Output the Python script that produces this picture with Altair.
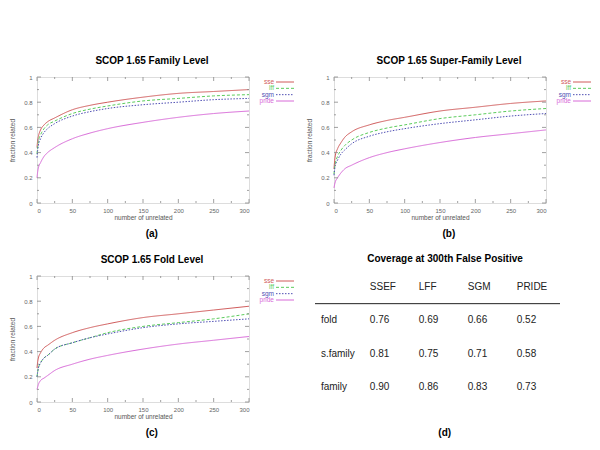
import altair as alt
import pandas as pd

FONT = "Liberation Sans"

# ---------------- data ----------------
x_vals = [0, 1, 2, 5, 10, 15, 25, 50, 75, 100, 150, 200, 250, 300]
methods = ["sse", "lff", "sgm", "pride"]

fam_sse = [0.44, 0.50, 0.53, 0.58, 0.62, 0.645, 0.675, 0.74, 0.775, 0.80, 0.84, 0.87, 0.885, 0.90]
fam_lff = [0.39, 0.45, 0.49, 0.54, 0.59, 0.62, 0.65, 0.71, 0.745, 0.77, 0.81, 0.83, 0.85, 0.86]
fam_sgm = [0.36, 0.42, 0.46, 0.51, 0.56, 0.59, 0.63, 0.69, 0.725, 0.75, 0.78, 0.80, 0.82, 0.83]
fam_pride = [0.20, 0.25, 0.28, 0.32, 0.37, 0.40, 0.44, 0.51, 0.555, 0.59, 0.64, 0.68, 0.71, 0.73]

sf_sse = [0.27, 0.34, 0.38, 0.43, 0.48, 0.52, 0.565, 0.62, 0.655, 0.68, 0.73, 0.76, 0.79, 0.81]
sf_lff = [0.23, 0.29, 0.32, 0.37, 0.42, 0.455, 0.50, 0.56, 0.595, 0.62, 0.67, 0.70, 0.73, 0.75]
sf_sgm = [0.22, 0.27, 0.30, 0.34, 0.39, 0.42, 0.47, 0.53, 0.565, 0.59, 0.63, 0.66, 0.69, 0.71]
sf_pride = [0.12, 0.15, 0.17, 0.20, 0.24, 0.27, 0.30, 0.36, 0.40, 0.43, 0.48, 0.52, 0.55, 0.58]

fold_sse = [0.27, 0.32, 0.35, 0.39, 0.43, 0.45, 0.49, 0.55, 0.59, 0.62, 0.67, 0.70, 0.73, 0.76]
fold_lff = [0.20, 0.24, 0.27, 0.31, 0.35, 0.37, 0.42, 0.47, 0.51, 0.55, 0.60, 0.63, 0.66, 0.70]
fold_sgm = [0.20, 0.24, 0.27, 0.31, 0.35, 0.37, 0.42, 0.47, 0.51, 0.54, 0.59, 0.62, 0.64, 0.66]
fold_pride = [0.10, 0.12, 0.14, 0.17, 0.19, 0.21, 0.25, 0.30, 0.34, 0.37, 0.42, 0.46, 0.49, 0.52]

x_ticks = [0, 25, 50, 75, 100, 125, 150, 175, 200, 225, 250, 275, 300]
x_major = [0, 50, 100, 150, 200, 250, 300]
y_ticks = [0, 0.1, 0.2, 0.3, 0.4, 0.5, 0.6, 0.7, 0.8, 0.9, 1.0]
y_major = [0, 0.2, 0.4, 0.6, 0.8, 1.0]

table_header = ["SSEF", "LFF", "SGM", "PRIDE"]
table_rows = ["fold", "s.family", "family"]
table_fold = [0.76, 0.69, 0.66, 0.52]
table_sfam = [0.81, 0.75, 0.71, 0.58]
table_fam = [0.90, 0.86, 0.83, 0.73]

colors = ["#d05a5a", "#5ccc5c", "#5050b4", "#d86ad8"]
dashes = [[1, 0], [3, 2], [1.5, 1.5], [1, 0]]

W, H = 212, 126
color_scale = alt.Scale(domain=methods, range=colors)
dash_scale = alt.Scale(domain=methods, range=dashes)


def long_df(series):
    rows = []
    for m, vals in zip(methods, series):
        for xv, yv in zip(x_vals, vals):
            rows.append({"x": xv, "y": yv, "method": m})
    return pd.DataFrame(rows)


xt_df = pd.DataFrame({"t": x_ticks, "major": [t in x_major for t in x_ticks]})
yt_df = pd.DataFrame({"t": y_ticks, "major": [any(abs(t - m) < 1e-9 for m in y_major) for t in y_ticks]})

xsc = alt.Scale(domain=[0, 300], nice=False)
ysc = alt.Scale(domain=[0, 1], nice=False)

x_axis = alt.Axis(values=x_major, ticks=False, domain=False, grid=False,
                  labelFontSize=6, labelColor="#666", labelPadding=4, labelFont=FONT,
                  title="number of unrelated", titleFontSize=6.5, titleFontWeight="normal",
                  titleColor="#555", titlePadding=1, titleFont=FONT)
y_axis = alt.Axis(values=y_major, format="~g", ticks=False, domain=False, grid=False,
                  labelFontSize=6, labelColor="#666", labelPadding=5, labelFont=FONT,
                  title="fraction related", titleFontSize=6.5, titleFontWeight="normal",
                  titleColor="#555", titlePadding=8, titleFont=FONT)


def tick_layers():
    layers = []
    for major, ln in [(True, 4), (False, 2)]:
        xd = alt.Chart(xt_df).transform_filter(alt.datum.major == major)
        yd = alt.Chart(yt_df).transform_filter(alt.datum.major == major)
        layers.append(xd.mark_rule(color="#888", strokeWidth=0.8).encode(
            x=alt.X("t:Q", scale=xsc, axis=x_axis), y=alt.value(H), y2=alt.value(H - ln)))
        layers.append(xd.mark_rule(color="#888", strokeWidth=0.8).encode(
            x=alt.X("t:Q", scale=xsc, axis=x_axis), y=alt.value(0), y2=alt.value(ln)))
        layers.append(yd.mark_rule(color="#888", strokeWidth=0.8).encode(
            y=alt.Y("t:Q", scale=ysc, axis=y_axis), x=alt.value(0), x2=alt.value(ln)))
        layers.append(yd.mark_rule(color="#888", strokeWidth=0.8).encode(
            y=alt.Y("t:Q", scale=ysc, axis=y_axis), x=alt.value(W), x2=alt.value(W - ln)))
    return layers


def panel(series, title, caption):
    df = long_df(series)
    lines = alt.Chart(df).mark_line(strokeWidth=1, interpolate="monotone").encode(
        x=alt.X("x:Q", scale=xsc, axis=x_axis),
        y=alt.Y("y:Q", scale=ysc, axis=y_axis),
        color=alt.Color("method:N", scale=color_scale, legend=None),
        strokeDash=alt.StrokeDash("method:N", scale=dash_scale, legend=None),
    )
    plot = alt.layer(lines, *tick_layers()).properties(
        width=W, height=H,
        title=alt.Title(title, fontSize=10, fontWeight="bold", font=FONT, color="#000",
                        offset=8, frame="group", dx=9),
    )

    leg_df = pd.DataFrame({"method": methods})
    ly = alt.Y("method:N", sort=methods, axis=None,
               scale=alt.Scale(type="point", range=[5, 24], padding=0))
    ltext = alt.Chart(leg_df).mark_text(align="right", baseline="middle", fontSize=6.5, font=FONT).encode(
        y=ly, x=alt.value(10), text="method:N",
        color=alt.Color("method:N", scale=color_scale, legend=None))
    lrule = alt.Chart(leg_df).mark_rule(strokeWidth=1).encode(
        y=ly, x=alt.value(12), x2=alt.value(30),
        color=alt.Color("method:N", scale=color_scale, legend=None),
        strokeDash=alt.StrokeDash("method:N", scale=dash_scale, legend=None))
    legend = alt.layer(lrule, ltext).properties(width=30, height=H, view=alt.ViewBackground(stroke=None))

    return alt.hconcat(plot, legend, spacing=7).properties(
        title=alt.Title(caption, orient="bottom", anchor="middle", fontSize=10, fontWeight="bold",
                        font=FONT, color="#000", offset=8))


pa = panel([fam_sse, fam_lff, fam_sgm, fam_pride], "SCOP 1.65 Family Level", "(a)")
pb = panel([sf_sse, sf_lff, sf_sgm, sf_pride], "SCOP 1.65 Super-Family Level", "(b)")
pc = panel([fold_sse, fold_lff, fold_sgm, fold_pride], "SCOP 1.65 Fold Level", "(c)")

# ---------------- table (d) ----------------
trows = []
for i, h in enumerate(table_header):
    trows.append({"col": i + 1, "row": 0, "txt": h})
for r, (name, vals) in enumerate(zip(table_rows, [table_fold, table_sfam, table_fam])):
    trows.append({"col": 0, "row": r + 1, "txt": name})
    for i, v in enumerate(vals):
        trows.append({"col": i + 1, "row": r + 1, "txt": f"{v:.2f}"})
tdf = pd.DataFrame(trows)

TW = 260
tx = alt.Scale(domain=[-0.12, 5.19], nice=False, zero=False)
ty = alt.Scale(domain=[-0.33, 3.45], nice=False, zero=False, reverse=True)
ttext = alt.Chart(tdf).mark_text(align="left", baseline="middle", fontSize=10, font=FONT, color="#222").encode(
    x=alt.X("col:Q", scale=tx, axis=None),
    y=alt.Y("row:Q", scale=ty, axis=None),
    text="txt:N")
trule = alt.Chart(pd.DataFrame({"r": [0.5]})).mark_rule(color="#222", strokeWidth=1).encode(
    y=alt.Y("r:Q", scale=ty, axis=None), x=alt.value(0), x2=alt.value(245))
table = alt.layer(trule, ttext).properties(
    width=TW, height=H, view=alt.ViewBackground(stroke=None),
    title=alt.Title("Coverage at 300th False Positive", fontSize=10, fontWeight="bold", font=FONT,
                    color="#000", offset=12))
pd_ = alt.hconcat(table).properties(
    title=alt.Title("(d)", orient="bottom", anchor="middle", fontSize=10, fontWeight="bold",
                    font=FONT, color="#000", offset=26))

row1 = alt.hconcat(pa, pb, spacing=11)
row2 = alt.hconcat(pc, pd_, spacing=19)
chart = alt.vconcat(row1, row2, spacing=15).properties(
    padding={"left": 1, "top": 47, "right": 0, "bottom": 0}
).configure_view(stroke="#888", strokeWidth=0.8).configure(background="white")

chart.save("out.html", embed_options={"renderer": "svg", "actions": False})
